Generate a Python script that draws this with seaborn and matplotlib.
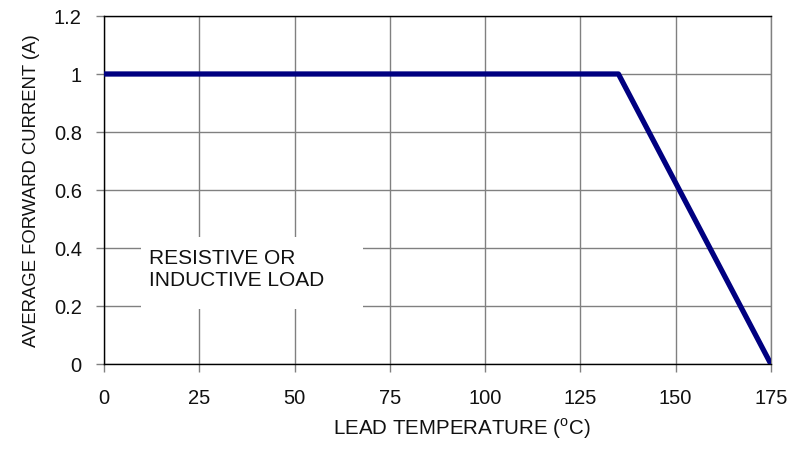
#%% Packages
import matplotlib
matplotlib.use("Agg")
import matplotlib.pyplot as plt
from matplotlib.patches import Rectangle
import pandas as pd
import seaborn as sns

#%% Data
temp = [0, 135, 175]
current = [1.0, 1.0, 0.0]
x_ticks = [0, 25, 50, 75, 100, 125, 150, 175]
y_ticks = [0, 0.2, 0.4, 0.6, 0.8, 1.0, 1.2]
y_tick_labels = ["0", "0.2", "0.4", "0.6", "0.8", "1", "1.2"]

df = pd.DataFrame({"temp": temp, "current": current})

#%% Style
sns.set_style("white")
plt.rcParams["font.family"] = ["Liberation Sans", "DejaVu Sans"]
plt.rcParams["mathtext.fontset"] = "custom"
plt.rcParams["mathtext.rm"] = "Liberation Sans"

#%% Plot
fig, ax = plt.subplots(figsize=(7.89, 4.52), dpi=100)
fig.subplots_adjust(left=0.1318, right=0.977, top=0.9624, bottom=0.1925)

sns.lineplot(data=df, x="temp", y="current", color="#000080", linewidth=3.8,
             ax=ax, zorder=4)

ax.set_xlim(0, 175)
ax.set_ylim(0, 1.2)
ax.set_xticks(x_ticks)
ax.set_yticks(y_ticks)
ax.set_yticklabels(y_tick_labels)
ax.grid(True, color="#808080", linewidth=1.0)
ax.set_axisbelow(True)

ax.tick_params(axis="both", which="both", direction="out", length=6,
               color="#808080", width=1.0, labelsize=14.5, labelcolor="#111111")
ax.tick_params(axis="x", bottom=True, pad=11)
ax.tick_params(axis="y", left=True, pad=10)

for side in ["left", "bottom", "top"]:
    ax.spines[side].set_color("black")
    ax.spines[side].set_linewidth(1.0)
ax.spines["right"].set_color("#808080")
ax.spines["right"].set_linewidth(1.0)

# white label box that hides the grid
ax.add_patch(Rectangle((9.7, 0.19), 58.3, 0.248, facecolor="white",
                       edgecolor="none", zorder=2))
ax.text(11.8, 0.331, "RESISTIVE OR\nINDUCTIVE LOAD", fontsize=15,
        va="center", ha="left", linespacing=1.2, zorder=3, color="#111111")

ax.set_xlabel(r"LEAD TEMPERATURE ($^{\rm o}$C)", fontsize=14.8, labelpad=6,
              color="#111111")
ax.xaxis.label.set_x(0.537)
ax.set_ylabel("AVERAGE FORWARD CURRENT (A)", fontsize=13.3, labelpad=10,
              color="#111111")

fig.savefig("out.png", dpi=100)
